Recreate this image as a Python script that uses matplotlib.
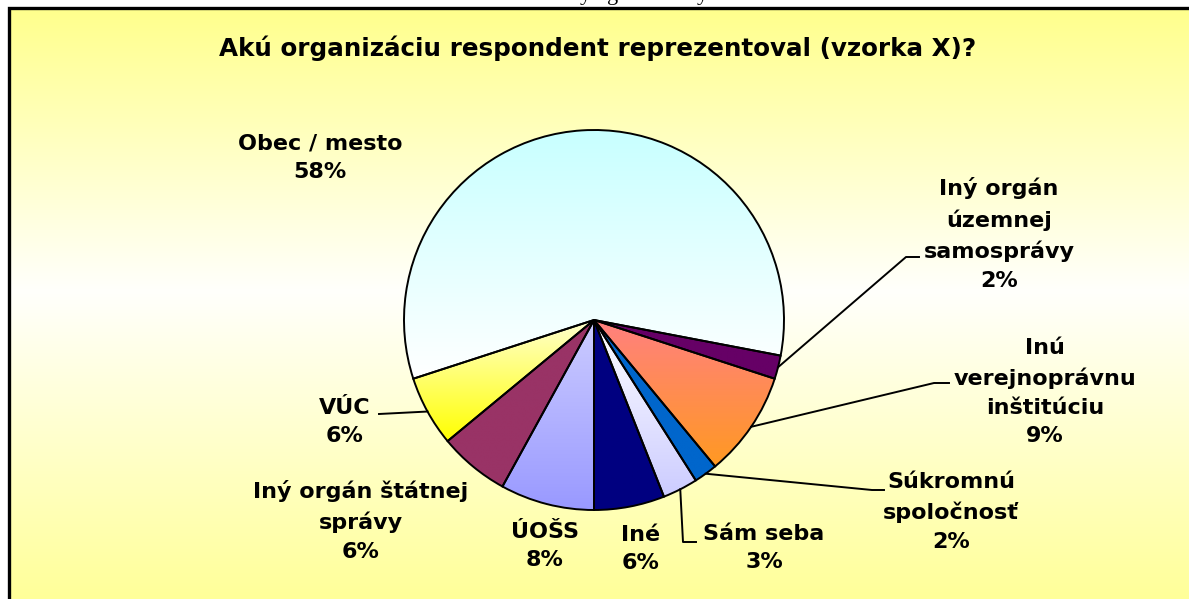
import numpy as np
import matplotlib.pyplot as plt
from matplotlib.colors import to_rgb

# rozmery obrazka v pixeloch (dpi 100)
W, H = 1189, 599

# data: poradie proti smeru hodin od spodku kruhu
labels = ['Iné', 'Sám seba', 'Súkromnú\nspoločnosť', 'Inú\nverejnoprávnu\ninštitúciu',
          'Iný orgán\núzemnej\nsamosprávy', 'Obec / mesto', 'VÚC',
          'Iný orgán štátnej\nsprávy', 'ÚOŠS']
shares = [6, 3, 2, 9, 2, 58, 6, 6, 8]

# farby (hore -> dole) pre prechod v kazdom vyseku
top_colors = ['#000080', '#FFFFFF', '#0066CC', '#FF8080', '#660066',
              '#C8FFFF', '#FFFFD0', '#993366', '#CCCCFF']
bottom_colors = ['#000080', '#CCCCFF', '#0066CC', '#FF9922', '#660066',
                 '#FFFFFF', '#FFFF00', '#993366', '#9999FF']

# poloha popiskov (stred textu, pixely zhora) a zalomenie vodiacej ciary
label_pos = [(641, 549), (764, 548), (951, 512), (1045, 392), (999, 234),
             (320, 158), (345, 422), (361, 521), (545, 546)]
leader_pts = [None, [(683, 542), (696, 542)], [(872, 490), (884, 490)],
              [(934, 383), (949, 383)], [(906, 257), (919, 257)],
              None, [(379, 414)], None, None]

FONT = 'DejaVu Sans'


def px(x, y):
    # pixely zhora -> suradnice osi (y hore)
    return x, H - y


def vgrad(c_top, c_bot, n=256):
    t = np.linspace(0, 1, n)[:, None, None]
    a = np.array(to_rgb(c_top))[None, None, :]
    b = np.array(to_rgb(c_bot))[None, None, :]
    return a * (1 - t) + b * t


fig = plt.figure(figsize=(W / 100, H / 100), dpi=100)
fig.patch.set_facecolor('white')
ax = fig.add_axes([0, 0, 1, 1])

# pozadie grafu: zlta -> biela -> zlta
bg_stops = [(0.0, '#FFFF8C'), (0.48, '#FFFFFC'), (1.0, '#FFFF99')]
t = np.linspace(0, 1, 400)
cols = np.array([to_rgb(c) for _, c in bg_stops])
pos = [p for p, _ in bg_stops]
bg = np.stack([np.interp(t, pos, cols[:, k]) for k in range(3)], axis=-1)[:, None, :]
ax.imshow(bg, extent=[8.5, W, 0, H - 7.5], origin='upper', aspect='auto',
          interpolation='bilinear', zorder=0)

# ramcek (lavy a horny okraj)
ax.plot([8.5, 8.5, W], [0, H - 7.5, H - 7.5], color='black', lw=2.4,
        solid_joinstyle='miter', zorder=5)

# kolac
cx, cy = px(594, 320)
r = 190
wedges, _ = ax.pie(shares, startangle=-90, counterclock=True, center=(cx, cy),
                   radius=r, wedgeprops=dict(edgecolor='black', linewidth=1.4))

for w, ct, cb in zip(wedges, top_colors, bottom_colors):
    w.set_facecolor('none')
    w.set_zorder(3)
    ext = w.get_path().get_extents()
    im = ax.imshow(vgrad(ct, cb), extent=[ext.x0, ext.x1, ext.y0, ext.y1],
                   origin='upper', aspect='auto', interpolation='bilinear', zorder=2)
    im.set_clip_path(w)

# popisky a vodiace ciary
total = sum(shares)
for w, lab, s, (lx, ly), pts in zip(wedges, labels, shares, label_pos, leader_pts):
    ax.text(*px(lx, ly), f'{lab}\n{round(100 * s / total)}%', ha='center', va='center',
            fontsize=16, fontweight='bold', family=FONT, linespacing=1.55, zorder=6)
    if pts is not None:
        mid = np.deg2rad((w.theta1 + w.theta2) / 2)
        xs = [cx + r * np.cos(mid)] + [p[0] for p in pts]
        ys = [cy + r * np.sin(mid)] + [H - p[1] for p in pts]
        ax.plot(xs, ys, color='black', lw=1.4, zorder=4)

ax.text(*px(598, 48), 'Akú organizáciu respondent reprezentoval (vzorka X)?',
        ha='center', va='center', fontsize=17.7, fontweight='bold', family=FONT, zorder=6)

# odrezany riadok textu nad grafom
for x, ch in [(585, 'y'), (613, 'g'), (702, 'y')]:
    ax.text(*px(x, 0), ch, ha='center', va='baseline', fontsize=16,
            family='Liberation Serif', zorder=6)

ax.set_xlim(0, W)
ax.set_ylim(0, H)
ax.set_aspect('auto')
ax.axis('off')

fig.savefig('out.png', dpi=100)
